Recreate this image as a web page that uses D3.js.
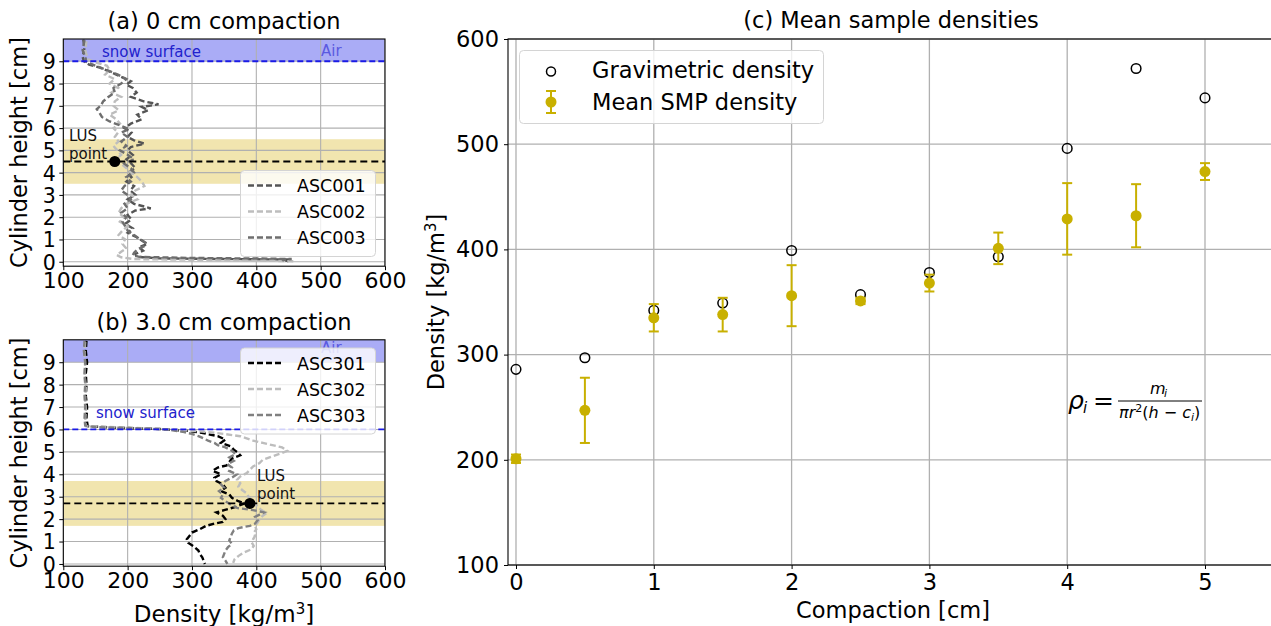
<!DOCTYPE html>
<html><head><meta charset="utf-8">
<script src="https://cdn.jsdelivr.net/npm/d3@7"></script>
<style>body{margin:0;background:#fff} text{font-family:"DejaVu Sans",sans-serif}</style>
</head><body><svg id="c" width="1271" height="626"></svg>
<script>
// ---------- DATA ----------
const densityTicks = [100, 200, 300, 400, 500, 600];
const heightTicks = [0,1,2,3,4,5,6,7,8,9];
const compactionTicks = [0,1,2,3,4,5];
const meanDensityTicks = [100,200,300,400,500,600];

// panel (a) profiles: [height cm, density kg/m3]
const ASC001 = [[9.98,131],[9.6,133],[9.2,130],[9.0,132],[8.85,140],[8.7,158],[8.5,175],[8.3,190],[8.1,205],[7.95,198],[7.8,208],[7.6,214],[7.4,205],[7.2,225],[7.07,248],[6.95,222],[6.8,232],[6.6,215],[6.4,222],[6.2,205],[6.0,195],[5.8,206],[5.6,200],[5.45,210],[5.3,226],[5.15,205],[5.0,200],[4.8,208],[4.6,198],[4.4,206],[4.2,212],[4.0,200],[3.8,206],[3.6,198],[3.4,210],[3.2,204],[3.0,212],[2.8,200],[2.6,210],[2.4,236],[2.3,212],[2.1,200],[1.9,206],[1.7,196],[1.5,208],[1.3,200],[1.1,214],[0.95,222],[0.8,230],[0.65,218],[0.5,224],[0.35,212],[0.22,214],[0.15,250],[0.12,350],[0.1,452],[0.06,445],[0.02,450]];
const ASC002 = [[9.9,136],[9.5,134],[9.1,138],[8.95,150],[8.8,168],[8.6,172],[8.4,165],[8.2,180],[8.0,172],[7.8,185],[7.6,175],[7.4,190],[7.2,180],[7.0,178],[6.8,186],[6.6,172],[6.4,182],[6.2,188],[6.0,178],[5.8,185],[5.6,180],[5.4,186],[5.2,178],[5.0,184],[4.8,190],[4.6,182],[4.4,190],[4.2,198],[4.0,205],[3.8,215],[3.6,222],[3.4,226],[3.2,212],[3.0,205],[2.8,215],[2.6,198],[2.4,190],[2.2,186],[2.0,194],[1.8,188],[1.6,200],[1.4,192],[1.2,186],[1.0,196],[0.8,192],[0.6,198],[0.45,190],[0.3,183],[0.2,190],[0.12,210],[0.08,330],[0.05,410],[0.02,460]];
const ASC003 = [[9.95,133],[9.5,130],[9.1,135],[9.0,134],[8.8,150],[8.6,168],[8.4,185],[8.2,198],[8.0,190],[7.8,178],[7.6,180],[7.4,170],[7.2,162],[7.0,158],[6.85,152],[6.7,156],[6.5,160],[6.3,172],[6.1,190],[5.95,202],[5.8,190],[5.6,200],[5.4,190],[5.2,198],[5.0,188],[4.8,200],[4.6,210],[4.4,195],[4.2,205],[4.0,210],[3.8,198],[3.6,205],[3.4,195],[3.2,190],[3.0,200],[2.8,205],[2.6,195],[2.4,200],[2.2,190],[2.0,198],[1.8,192],[1.6,196],[1.4,200],[1.2,210],[1.0,220],[0.85,228],[0.7,226],[0.55,215],[0.4,210],[0.3,208],[0.22,218],[0.17,300],[0.14,420],[0.12,455],[0.08,440],[0.04,445]];

// panel (b) profiles
const ASC301 = [[9.95,136],[9.5,135],[9.0,137],[8.5,135],[8.0,136],[7.5,135],[7.0,137],[6.5,136],[6.15,138],[6.08,180],[6.02,250],[5.95,290],[5.85,315],[5.7,340],[5.55,352],[5.4,345],[5.25,360],[5.1,365],[4.95,372],[4.85,375],[4.7,362],[4.55,358],[4.4,354],[4.3,340],[4.15,332],[4.0,345],[3.85,335],[3.7,338],[3.55,348],[3.4,352],[3.25,345],[3.1,358],[2.95,362],[2.8,372],[2.7,382],[2.55,368],[2.4,350],[2.3,338],[2.15,348],[2.0,352],[1.88,348],[1.8,335],[1.7,322],[1.55,312],[1.4,300],[1.25,296],[1.1,292],[0.95,294],[0.8,302],[0.6,310],[0.45,312],[0.3,316],[0.15,318],[0.0,320]];
const ASC302 = [[9.9,134],[9.4,133],[8.9,134],[8.4,133],[7.9,135],[7.4,134],[6.9,135],[6.4,134],[6.15,135],[6.08,200],[6.0,270],[5.9,320],[5.8,350],[5.7,375],[5.6,385],[5.5,395],[5.4,410],[5.3,425],[5.2,440],[5.05,448],[4.95,440],[4.8,425],[4.65,410],[4.5,405],[4.35,395],[4.2,390],[4.05,385],[3.9,375],[3.75,370],[3.6,375],[3.45,372],[3.3,378],[3.15,385],[3.0,388],[2.85,392],[2.7,398],[2.55,402],[2.4,408],[2.28,416],[2.15,410],[2.0,405],[1.85,402],[1.7,398],[1.55,400],[1.4,396],[1.25,398],[1.1,395],[0.95,393],[0.8,396],[0.65,392],[0.5,380],[0.35,372],[0.2,366],[0.05,364]];
const ASC303 = [[9.95,133],[9.5,132],[9.0,134],[8.5,133],[8.0,134],[7.5,133],[7.0,134],[6.5,133],[6.18,134],[6.1,150],[6.05,220],[6.0,260],[5.9,285],[5.8,300],[5.7,310],[5.6,318],[5.5,325],[5.4,335],[5.3,340],[5.2,352],[5.05,362],[4.9,368],[4.75,358],[4.6,365],[4.45,355],[4.3,362],[4.15,358],[4.0,370],[3.85,362],[3.7,352],[3.55,345],[3.4,350],[3.25,342],[3.1,348],[2.95,345],[2.8,352],[2.65,360],[2.5,370],[2.4,395],[2.3,412],[2.2,405],[2.1,398],[1.95,402],[1.8,398],[1.7,390],[1.6,372],[1.5,365],[1.35,362],[1.2,360],[1.05,358],[0.9,362],[0.75,356],[0.6,352],[0.45,350],[0.3,348],[0.15,352],[0.0,355]];

// panel (c)
const compaction = [0,0.5,1,1.5,2,2.5,3,3.5,4,4.5,5];
const gravimetric = [286,297,342,349,399,357,378,393,496,572,544];
const smpMean = [201,247,335,338,356,351,368,401,429,432,474];
const smpErr = [4,31,13,16,29,3,8,15,34,30,8];

// ---------- DRAW ----------
const svg = d3.select('#c');
const FS = 22.5;
const FSx = 22;
const FSy = 20.5;

function frame(g, x0, x1, y0, y1){
  g.append('rect').attr('x',x0).attr('y',y1).attr('width',x1-x0).attr('height',y0-y1)
    .attr('fill','none').attr('stroke','#000').attr('stroke-width',1.1);
}
function styleAxis(a, fs){
  a.select('.domain').remove();
  a.selectAll('text').attr('font-size',fs).attr('font-family','DejaVu Sans').attr('fill','#000');
  a.selectAll('line').attr('stroke','#000');
}

function profilePanel(o){
  const x = d3.scaleLinear().domain([100,600]).range([63.3,385]);
  const y = d3.scaleLinear().domain(o.ydom).range(o.yrange);
  const g = svg.append('g');
  const id = 'clip'+o.key;
  svg.append('clipPath').attr('id',id).append('rect')
    .attr('x',x.range()[0]).attr('y',o.yrange[1]).attr('width',x.range()[1]-x.range()[0]).attr('height',o.yrange[0]-o.yrange[1]);
  const p = g.append('g').attr('clip-path',`url(#${id})`);
  p.append('rect').attr('x',x(100)).attr('width',x(600)-x(100))
    .attr('y',y(o.ydom[1])).attr('height',y(9)-y(o.ydom[1])).attr('fill','rgb(170,172,246)');
  p.append('rect').attr('x',x(100)).attr('width',x(600)-x(100))
    .attr('y',y(o.lus+1)).attr('height',y(o.lus-1)-y(o.lus+1)).attr('fill','rgb(241,229,175)');
  p.selectAll('.vg').data(densityTicks).join('line').attr('x1',d=>x(d)).attr('x2',d=>x(d))
    .attr('y1',o.yrange[0]).attr('y2',o.yrange[1]).attr('stroke','#b0b0b0').attr('stroke-width',1.1);
  p.selectAll('.hg').data(heightTicks).join('line').attr('y1',d=>y(d)).attr('y2',d=>y(d))
    .attr('x1',x(100)).attr('x2',x(600)).attr('stroke','#b0b0b0').attr('stroke-width',1.1);
  const line = d3.line().x(d=>x(d[1])).y(d=>y(d[0]));
  o.series.forEach(s=>{
    p.append('path').datum(s.data).attr('d',line).attr('fill','none')
      .attr('stroke',s.color).attr('stroke-width',2.4).attr('stroke-dasharray','6,3');
  });
  p.append('line').attr('x1',x(100)).attr('x2',x(600)).attr('y1',y(o.snow)).attr('y2',y(o.snow))
    .attr('stroke','#1a1ae6').attr('stroke-width',1.8).attr('stroke-dasharray','6,3');
  p.append('line').attr('x1',x(100)).attr('x2',x(600)).attr('y1',y(o.lus)).attr('y2',y(o.lus))
    .attr('stroke','#000').attr('stroke-width',1.8).attr('stroke-dasharray','7,4');
  p.append('circle').attr('cx',x(o.lusX)).attr('cy',y(o.lus)).attr('r',5.5).attr('fill','#000');
  g.append('text').attr('x',o.snowTxt[0]).attr('y',o.snowTxt[1]).attr('font-size',15).attr('fill','#2222cc').text('snow surface');
  g.append('text').attr('x',o.airTxt[0]).attr('y',o.airTxt[1]).attr('font-size',15).attr('fill','#5a5ae0').text('Air');
  g.append('text').attr('x',o.lusTxt[0]).attr('y',o.lusTxt[1]).attr('font-size',15).attr('fill','#111').text('LUS');
  g.append('text').attr('x',o.lusTxt[0]).attr('y',o.lusTxt[1]+18).attr('font-size',15).attr('fill','#111').text('point');
  const ax = g.append('g').attr('transform',`translate(0,${o.yrange[0]})`)
    .call(d3.axisBottom(x).tickValues(densityTicks).tickSize(4).tickPadding(2).tickSizeOuter(0));
  const ay = g.append('g').attr('transform',`translate(${x(100)},0)`)
    .call(d3.axisLeft(y).tickValues(heightTicks).tickSize(4).tickPadding(3.5).tickSizeOuter(0));
  styleAxis(ax, FSx); styleAxis(ay, FSy);
  ay.selectAll('text').attr('dy','0.36em');
  frame(g, x(100), x(600), o.yrange[0], o.yrange[1]);
  g.append('text').attr('x',224).attr('y',o.titleY).attr('text-anchor','middle').attr('font-size',FS).text(o.title);
  g.append('text').attr('transform',`translate(27,${(o.yrange[0]+o.yrange[1])/2}) rotate(-90)`)
    .attr('text-anchor','middle').attr('font-size',FS).text('Cylinder height [cm]');
  const L = g.append('g');
  L.append('rect').attr('x',240.5).attr('y',o.legY).attr('width',135).attr('height',86).attr('rx',4)
    .attr('fill','rgba(255,255,255,0.8)').attr('stroke','#d4d4d4');
  o.series.forEach((s,i)=>{
    const yy = o.legY+15+i*26;
    L.append('line').attr('x1',248).attr('x2',283).attr('y1',yy).attr('y2',yy)
      .attr('stroke',s.color).attr('stroke-width',2.4).attr('stroke-dasharray','6,3');
    L.append('text').attr('x',297).attr('y',yy+6.5).attr('font-size',17.5).text(s.name);
  });
  return {x,y,g};
}

profilePanel({key:'a', ydom:[-0.2,10], yrange:[266.2,39], snow:9, lus:4.5, lusX:180,
  snowTxt:[102,57], airTxt:[321,56], lusTxt:[69,141], title:'(a) 0 cm compaction', titleY:29, legY:170.5,
  series:[{name:'ASC001',data:ASC001,color:'#555555'},{name:'ASC002',data:ASC002,color:'#bdbdbd'},{name:'ASC003',data:ASC003,color:'#6e6e6e'}]});

profilePanel({key:'b', ydom:[-0.1,10], yrange:[566.2,339.8], snow:6, lus:2.7, lusX:390,
  snowTxt:[96,418], airTxt:[321,353], lusTxt:[257,481], title:'(b) 3.0 cm compaction', titleY:330, legY:348,
  series:[{name:'ASC301',data:ASC301,color:'#000000'},{name:'ASC302',data:ASC302,color:'#bdbdbd'},{name:'ASC303',data:ASC303,color:'#808080'}]});
svg.append('text').attr('x',224).attr('y',622).attr('text-anchor','middle').attr('font-size',23)
  .html('Density [kg/m<tspan dy="-8" font-size="15">3</tspan><tspan dy="8">]</tspan>');

// ---------- panel (c) ----------
(function(){
  const x = d3.scaleLinear().domain([-0.058,5.5]).range([508,1273.9]);
  const y = d3.scaleLinear().domain([100,600]).range([565,39]);
  const g = svg.append('g');
  g.selectAll('.vg').data(compactionTicks).join('line').attr('x1',d=>x(d)).attr('x2',d=>x(d))
    .attr('y1',565).attr('y2',39).attr('stroke','#b0b0b0').attr('stroke-width',1.3);
  g.selectAll('.hg').data(meanDensityTicks).join('line').attr('y1',d=>y(d)).attr('y2',d=>y(d))
    .attr('x1',508).attr('x2',1274).attr('stroke','#b0b0b0').attr('stroke-width',1.3);
  const gold = '#c8b000';
  const idx = d3.range(compaction.length);
  g.selectAll('.gc').data(idx).join('circle').attr('cx',i=>x(compaction[i])).attr('cy',i=>y(gravimetric[i]))
    .attr('r',4.8).attr('fill','none').attr('stroke','#000').attr('stroke-width',1.5);
  const eb = g.selectAll('.eb').data(idx).join('g');
  eb.append('line').attr('x1',i=>x(compaction[i])).attr('x2',i=>x(compaction[i]))
    .attr('y1',i=>y(smpMean[i]-smpErr[i])).attr('y2',i=>y(smpMean[i]+smpErr[i])).attr('stroke',gold).attr('stroke-width',2);
  [-1,1].forEach(sg=>eb.append('line').attr('x1',i=>x(compaction[i])-5).attr('x2',i=>x(compaction[i])+5)
    .attr('y1',i=>y(smpMean[i]+sg*smpErr[i])).attr('y2',i=>y(smpMean[i]+sg*smpErr[i])).attr('stroke',gold).attr('stroke-width',2));
  eb.append('circle').attr('cx',i=>x(compaction[i])).attr('cy',i=>y(smpMean[i])).attr('r',5.5).attr('fill',gold);
  const ax = g.append('g').attr('transform','translate(0,565)')
    .call(d3.axisBottom(x).tickValues(compactionTicks).tickFormat(d3.format('d')).tickSize(4).tickPadding(5).tickSizeOuter(0));
  const ay = g.append('g').attr('transform','translate(508,0)')
    .call(d3.axisLeft(y).tickValues(meanDensityTicks).tickFormat(d3.format('d')).tickSize(4).tickPadding(5).tickSizeOuter(0));
  styleAxis(ax, FS); styleAxis(ay, FS);
  frame(g,508,1274,565,39);
  g.append('text').attr('x',891).attr('y',28).attr('text-anchor','middle').attr('font-size',FS).text('(c) Mean sample densities');
  g.append('text').attr('x',893).attr('y',618).attr('text-anchor','middle').attr('font-size',FS).text('Compaction [cm]');
  g.append('text').attr('transform','translate(444,302) rotate(-90)').attr('text-anchor','middle').attr('font-size',FS)
    .html('Density [kg/m<tspan dy="-8" font-size="15">3</tspan><tspan dy="8">]</tspan>');
  const f = g.append('g').attr('font-family','DejaVu Sans').attr('font-style','italic');
  f.append('text').attr('x',1068).attr('y',409).attr('font-size',25).text('ρ');
  f.append('text').attr('x',1083).attr('y',413).attr('font-size',15).text('i');
  f.append('text').attr('x',1093).attr('y',409).attr('font-size',25).attr('font-style','normal').text('=');
  f.append('line').attr('x1',1118).attr('x2',1202).attr('y1',401).attr('y2',401).attr('stroke','#000').attr('stroke-width',1);
  f.append('text').attr('x',1150).attr('y',394).attr('font-size',16).text('m');
  f.append('text').attr('x',1164).attr('y',397).attr('font-size',11).text('i');
  f.append('text').attr('x',1119).attr('y',418).attr('font-size',16)
    .html('πr<tspan dy="-6" font-size="11" font-style="normal">2</tspan><tspan dy="6" font-style="normal">(</tspan>h<tspan font-style="normal"> − </tspan>c<tspan dy="3" font-size="11">i</tspan><tspan dy="-3" font-style="normal">)</tspan>');
  const L = g.append('g');
  L.append('rect').attr('x',519.5).attr('y',50.5).attr('width',304).attr('height',73).attr('rx',4)
    .attr('fill','rgba(255,255,255,0.8)').attr('stroke','#d4d4d4');
  L.append('circle').attr('cx',551).attr('cy',71.5).attr('r',4.5).attr('fill','none').attr('stroke','#000').attr('stroke-width',1.5);
  L.append('text').attr('x',592).attr('y',78).attr('font-size',FS).text('Gravimetric density');
  L.append('line').attr('x1',551).attr('x2',551).attr('y1',91).attr('y2',113).attr('stroke',gold).attr('stroke-width',2);
  [91,113].forEach(v=>L.append('line').attr('x1',546).attr('x2',556).attr('y1',v).attr('y2',v).attr('stroke',gold).attr('stroke-width',2));
  L.append('circle').attr('cx',551).attr('cy',102).attr('r',5.5).attr('fill',gold);
  L.append('text').attr('x',592).attr('y',110).attr('font-size',FS).text('Mean SMP density');
})();
</script></body></html>
